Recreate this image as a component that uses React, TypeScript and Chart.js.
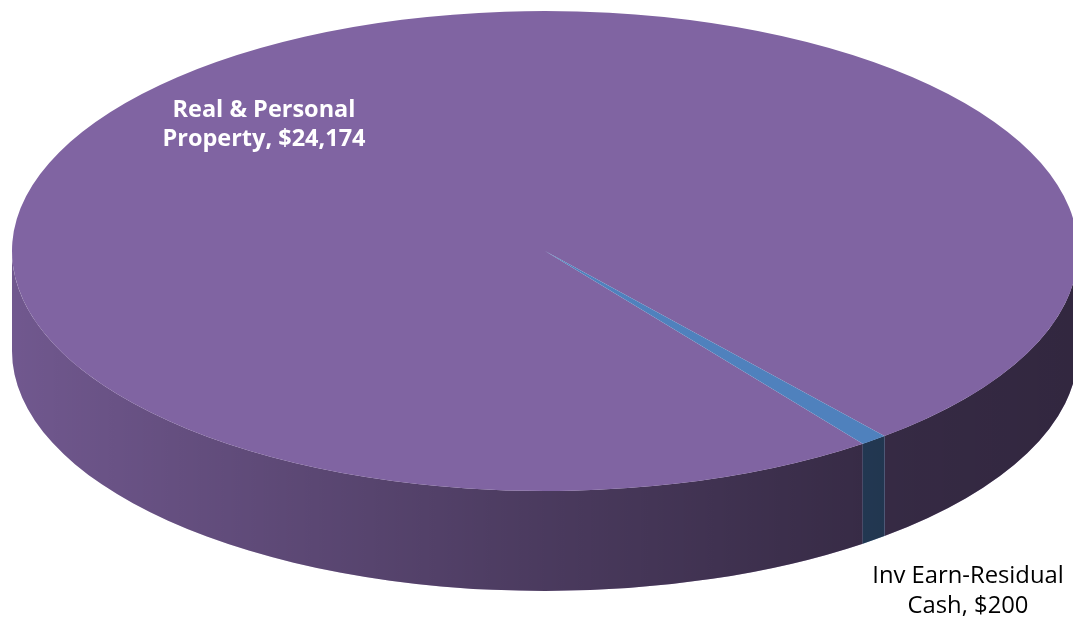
import React, { useEffect, useRef } from "react";
import { Chart, registerables } from "chart.js";

Chart.register(...registerables);

// ---- data ----
const categories = ["Real & Personal Property", "Inv Earn-Residual Cash"];
const labelLines = [
  ["Real & Personal", "Property"],
  ["Inv Earn-Residual", "Cash"],
];
const values = [24174, 200];
const sliceColors = ["#8064A2", "#4F81BD"];

const W = 1073;
const H = 618;

const pie3d = {
  id: "pie3d",
  beforeDatasetsDraw(chart: any, _args: any, opts: any) {
    const meta = chart.getDatasetMeta(0);
    const arcs = meta.data;
    chart.$pieSaved = false;
    if (!arcs || !arcs.length) return;
    const ctx: CanvasRenderingContext2D = chart.ctx;
    const { cx, cy, rx, ry, depth, shade } = opts;
    const bg = chart.data.datasets[0].backgroundColor as string[];
    ctx.save();
    arcs.forEach((arc: any, i: number) => {
      const p = arc.getProps(["startAngle", "endAngle"], true);
      const a0 = p.startAngle;
      const a1 = p.endAngle;
      for (let k = -2; k <= 2; k++) {
        const lo = Math.max(a0, k * 2 * Math.PI);
        const hi = Math.min(a1, k * 2 * Math.PI + Math.PI);
        if (hi <= lo) continue;
        ctx.beginPath();
        ctx.ellipse(cx, cy, rx, ry, 0, lo, hi, false);
        ctx.lineTo(cx + rx * Math.cos(hi), cy + depth + ry * Math.sin(hi));
        ctx.ellipse(cx, cy + depth, rx, ry, 0, hi, lo, true);
        ctx.closePath();
        ctx.fillStyle = bg[i];
        ctx.fill();
        const g = ctx.createLinearGradient(cx - rx, 0, cx + rx, 0);
        shade.forEach((s: [number, number]) =>
          g.addColorStop(s[0], `rgba(0,0,0,${s[1]})`)
        );
        ctx.fillStyle = g;
        ctx.fill();
      }
    });
    ctx.restore();

    const el = arcs[0];
    const R = el.outerRadius;
    ctx.save();
    chart.$pieSaved = true;
    ctx.translate(cx, cy);
    ctx.scale(rx / R, ry / R);
    ctx.translate(-el.x, -el.y);
  },
  afterDatasetsDraw(chart: any, _args: any, opts: any) {
    const ctx: CanvasRenderingContext2D = chart.ctx;
    if (chart.$pieSaved) {
      ctx.restore();
      chart.$pieSaved = false;
    }
    ctx.save();
    ctx.textAlign = "center";
    ctx.textBaseline = "alphabetic";
    opts.labels.forEach((lab: any, i: number) => {
      const lines = labelLines[i].slice();
      lines[lines.length - 1] =
        lines[lines.length - 1] + ", $" + values[i].toLocaleString("en-US");
      ctx.font = lab.font;
      ctx.fillStyle = lab.color;
      lines.forEach((t, j) => {
        ctx.fillText(t, lab.x, lab.y + j * lab.lineHeight);
      });
    });
    ctx.restore();
  },
};

export default function App() {
  const canvasRef = useRef<HTMLCanvasElement | null>(null);

  useEffect(() => {
    if (!canvasRef.current) return;
    const chart = new Chart(canvasRef.current, {
      type: "pie",
      data: {
        labels: categories,
        datasets: [
          {
            data: values,
            backgroundColor: sliceColors,
            borderWidth: 0,
            clip: false as any,
          } as any,
        ],
      },
      options: {
        responsive: false,
        animation: false,
        devicePixelRatio: 1,
        events: [],
        rotation: 143.4,
        layout: { padding: 0 },
        plugins: {
          legend: { display: false },
          tooltip: { enabled: false },
          pie3d: {
            cx: 545,
            cy: 251,
            rx: 533,
            ry: 240,
            depth: 100,
            shade: [
              [0, 0.12],
              [0.5, 0.42],
              [0.82, 0.58],
              [1, 0.61],
            ],
            labels: [
              { x: 264, y: 117, lineHeight: 29, color: "#ffffff", font: "bold 23.5px 'Open Sans'" },
              { x: 968, y: 583, lineHeight: 30, color: "#000000", font: "23.8px 'Open Sans'" },
            ],
          },
        } as any,
      },
      plugins: [pie3d as any],
    });
    return () => chart.destroy();
  }, []);

  return (
    <div style={{ position: "absolute", left: 0, top: 0, width: W, height: H, background: "#fff" }}>
      <canvas ref={canvasRef} width={W} height={H} style={{ display: "block" }} />
    </div>
  );
}
